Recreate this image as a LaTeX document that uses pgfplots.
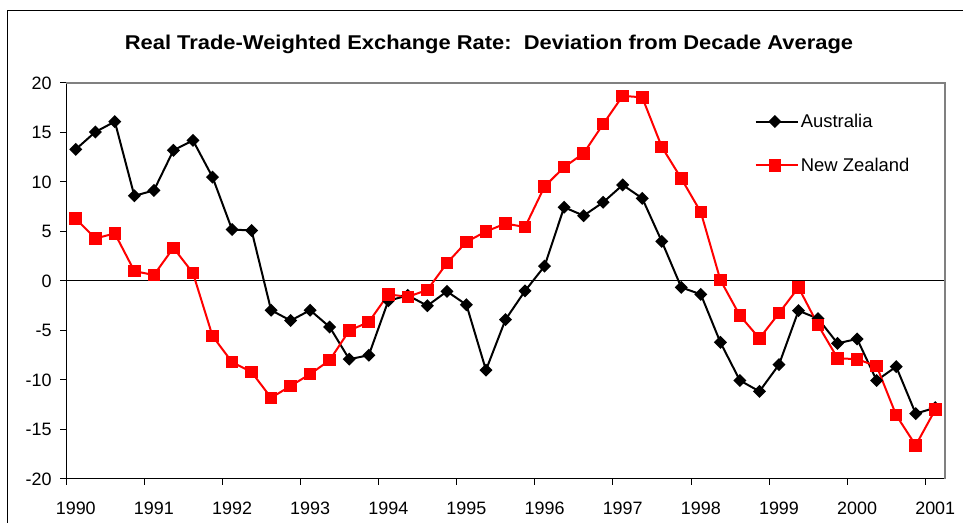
\documentclass[border=0pt]{standalone}
\usepackage{pgfplots}
\pgfplotsset{compat=1.18}
\usepackage{fontspec}
\setmainfont{Liberation Sans}
\definecolor{nzred}{RGB}{255,0,0}
\definecolor{bordergray}{RGB}{128,128,128}
\begin{document}
\begin{tikzpicture}[x=1bp,y=1bp]
\useasboundingbox (0,0) rectangle (963,523);
\fill[white] (0,0) rectangle (963,523);
\draw[black, line width=1bp] (7,-20) -- (7,512) -- (990,512);
\node[font=\fontsize{20}{24}\selectfont\bfseries, anchor=base, inner sep=0pt, xscale=1.1] at (489,473) {Real Trade-Weighted Exchange Rate:\ \ Deviation from Decade Average};
\begin{axis}[
  at={(66bp,44bp)}, anchor=south west, scale only axis,
  width=879bp, height=396bp,
  xmin=-0.5, xmax=44.5, ymin=-20, ymax=20,
  axis lines=left, axis line style={black, line width=1bp, -},
  tick align=outside, major tick length=6bp,
  tick style={black, line width=1bp},
  ytick={-20,-15,-10,-5,0,5,10,15,20},
  yticklabels={-20,-15,-10,-5,0,5,10,15,20},
  yticklabel style={xshift=-5bp},
  xtick={-0.5,3.5,7.5,11.5,15.5,19.5,23.5,27.5,31.5,35.5,39.5,43.5},
  xticklabels={,,,,,,,,,,,},
  extra x ticks={0,4,8,12,16,20,24,28,32,36,40,44},
  extra x tick labels={1990,1991,1992,1993,1994,1995,1996,1997,1998,1999,2000,2001},
  extra x tick style={major tick length=0pt, xticklabel style={yshift=-19bp}},
  tick label style={font=\fontsize{18}{21}\selectfont},
  clip=false,
  legend style={draw=none, fill=none, at={(0.78,0.932)}, anchor=north west,
    font=\fontsize{18.5}{22}\selectfont, row sep=25bp},
  legend cell align=left,
  legend image code/.code={\path (0bp,0bp) -- (42bp,0bp); \draw[#1, mark repeat=2, mark phase=2] plot coordinates {(0bp,0bp) (19bp,0bp) (38bp,0bp)};},
]
\draw[black, line width=1bp] (axis cs:-0.5,0) -- (axis cs:44.5,0);
\draw[bordergray, line width=1.3bp] (rel axis cs:0,1) -- (rel axis cs:1,1) -- (rel axis cs:1,0);
\addplot[black, line width=2bp, mark=square*, mark size=3.6bp, mark options={rotate=45, solid, fill=black}] coordinates {
(0,13.3) (1,15.05) (2,16.1) (3,8.6) (4,9.15) (5,13.2) (6,14.2) (7,10.5) (8,5.2) (9,5.1)
(10,-2.95) (11,-4.0) (12,-2.95) (13,-4.65) (14,-7.9) (15,-7.5) (16,-2.0) (17,-1.45) (18,-2.5) (19,-1.05)
(20,-2.4) (21,-9.0) (22,-3.9) (23,-1.0) (24,1.5) (25,7.45) (26,6.6) (27,7.95) (28,9.7) (29,8.35)
(30,4.0) (31,-0.65) (32,-1.35) (33,-6.2) (34,-10.05) (35,-11.15) (36,-8.45) (37,-3.0) (38,-3.8) (39,-6.3)
(40,-5.85) (41,-10.05) (42,-8.65) (43,-13.4) (44,-12.8)
};
\addlegendentry{Australia}
\addplot[nzred, line width=2bp, mark=square*, mark size=5.3bp, mark options={solid, fill=nzred}] coordinates {
(0,6.3) (1,4.3) (2,4.8) (3,1.0) (4,0.6) (5,3.35) (6,0.8) (7,-5.55) (8,-8.2) (9,-9.2)
(10,-11.8) (11,-10.6) (12,-9.4) (13,-8.0) (14,-5.0) (15,-4.15) (16,-1.35) (17,-1.6) (18,-0.9) (19,1.8)
(20,3.95) (21,5.0) (22,5.8) (23,5.45) (24,9.55) (25,11.5) (26,12.9) (27,15.85) (28,18.7) (29,18.55)
(30,13.55) (31,10.35) (32,6.95) (33,0.1) (34,-3.5) (35,-5.8) (36,-3.25) (37,-0.65) (38,-4.45) (39,-7.8)
(40,-7.9) (41,-8.6) (42,-13.55) (43,-16.6) (44,-13.0)
};
\addlegendentry{New Zealand}
\end{axis}
\end{tikzpicture}
\end{document}
